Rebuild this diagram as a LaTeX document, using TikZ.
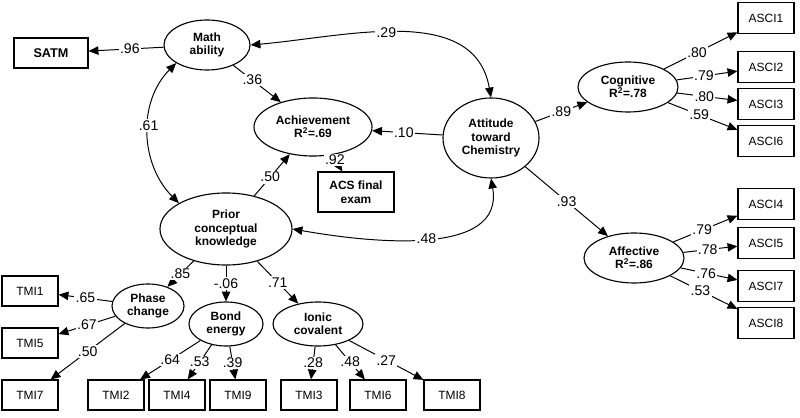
\documentclass[tikz,border=0pt]{standalone}
\usepackage{fontspec}
\setmainfont{Liberation Sans}
\usetikzlibrary{arrows.meta,shapes.geometric}
\begin{document}
\begin{tikzpicture}[x=0.025cm,y=-0.025cm,
 el/.style={draw,ellipse,line width=0.8pt,inner sep=0pt,font=\bfseries\fontsize{8.5}{9.5}\selectfont,align=center},
 bx/.style={draw,line width=0.8pt,minimum width=1.4cm,minimum height=0.75cm,font=\fontsize{8.5}{10}\selectfont,align=center},
 ar/.style={-{Triangle[length=7pt,width=6pt]},line width=0.7pt},
 br/.style={{Triangle[length=7pt,width=6pt]}-{Triangle[length=7pt,width=6pt]},line width=0.7pt},
 lb/.style={font=\fontsize{10}{12}\selectfont,fill=white,inner sep=1pt}]
\useasboundingbox (0,0) rectangle (800,418);
\node[bx,font=\bfseries\fontsize{9}{10}\selectfont,minimum width=1.85cm,minimum height=0.75cm] (satm) at (51,53) {SATM};
\node[el,minimum width=2.15cm,minimum height=1.25cm] (math) at (207,45) {Math\\ability};
\node[el,minimum width=2.95cm,minimum height=1.45cm] (ach) at (313,127) {Achievement\\R$^{\mathbf 2}$=.69};
\node[el,minimum width=2.4cm,minimum height=2cm] (att) at (491,138) {Attitude\\toward\\Chemistry};
\node[el,minimum width=2.5cm,minimum height=1.25cm] (cog) at (628,87) {Cognitive\\R$^{\mathbf 2}$=.78};
\node[el,minimum width=2.5cm,minimum height=1.25cm] (aff) at (634,258) {Affective\\R$^{\mathbf 2}$=.86};
\node[el,minimum width=3.3cm,minimum height=1.8cm] (pri) at (226,229) {Prior\\conceptual\\knowledge};
\node[bx,font=\bfseries\fontsize{8.5}{10}\selectfont,minimum width=1.9cm,minimum height=1cm] (acs) at (356,192) {ACS final\\exam};
\node[el,minimum width=1.8cm,minimum height=1.1cm] (ph) at (148,306) {Phase\\change};
\node[el,minimum width=1.85cm,minimum height=1.1cm] (bo) at (226,324) {Bond\\energy};
\node[el,minimum width=2.25cm,minimum height=1.1cm] (io) at (318,324) {Ionic\\covalent};
\foreach \n/\y in {1/18,2/67,3/104,6/141,4/204,5/243,7/286,8/323}
  \node[bx,minimum height=0.78cm] (a\n) at (766,\y) {ASCI\n};
\foreach \n/\x/\y in {1/30/291,5/30/343,7/30/395,2/116/395,4/177/395,9/238/395,3/309/395,6/378/395,8/452/395}
  \node[bx] (t\n) at (\x,\y) {TMI\n};
\draw[ar] (math) -- node[lb,pos=0.45]{.96} (satm);
\draw[ar] (math) -- node[lb,pos=0.4]{.36} (ach);
\draw[ar] (pri) -- node[lb,pos=0.45]{.50} (ach);
\draw[ar] (att) -- node[lb,pos=0.55]{.10} (ach);
\draw[ar] (ach) -- node[lb,pos=0.3]{.92} (acs);
\draw[ar] (att) -- node[lb]{.89} (cog);
\draw[ar] (att) -- node[lb]{.93} (aff);
\draw[br] (math.east) to[out=5,in=100] node[lb,pos=0.45]{.29} (att.north);
\draw[br] (math.south west) to[out=225,in=135] node[lb,pos=0.45]{.61} (pri.north west);
\draw[br] (pri.east) to[out=-10,in=-80] node[lb,pos=0.5]{.48} (att.south);
\foreach \a/\v in {1/.80,2/.79,3/.80,6/.59}
  \draw[ar] (cog) -- node[lb,pos=0.45]{\v} (a\a);
\foreach \a/\v in {4/.79,5/.78,7/.76,8/.53}
  \draw[ar] (aff) -- node[lb,pos=0.45]{\v} (a\a);
\draw[ar] (pri) -- node[lb]{.85} (ph);
\draw[ar] (pri) -- node[lb]{-.06} (bo);
\draw[ar] (pri) -- node[lb]{.71} (io);
\draw[ar] (ph) -- node[lb]{.65} (t1);
\draw[ar] (ph) -- node[lb]{.67} (t5);
\draw[ar] (ph) -- node[lb]{.50} (t7);
\draw[ar] (bo) -- node[lb]{.64} (t2);
\draw[ar] (bo) -- node[lb]{.53} (t4);
\draw[ar] (bo) -- node[lb]{.39} (t9);
\draw[ar] (io) -- node[lb]{.28} (t3);
\draw[ar] (io) -- node[lb]{.48} (t6);
\draw[ar] (io) -- node[lb]{.27} (t8);
\end{tikzpicture}
\end{document}
